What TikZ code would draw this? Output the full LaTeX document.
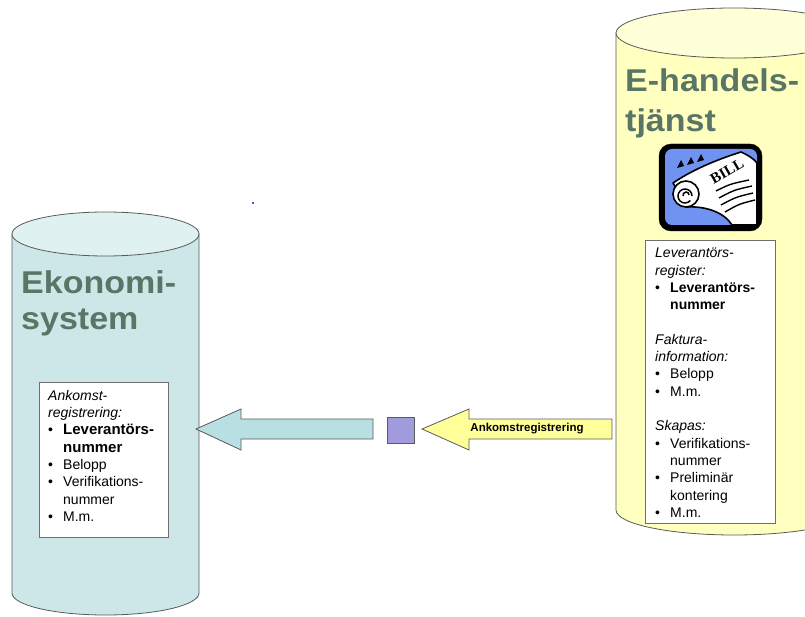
\documentclass[tikz,border=0pt]{standalone}
\usepackage{fontspec}
\setmainfont{Liberation Sans}
\newfontfamily\billfont{Liberation Serif}
\newfontfamily\titlefont[FakeStretch=1.08]{Liberation Sans}
\setlength{\parindent}{0pt}
\definecolor{ekoside}{RGB}{205,231,232}
\definecolor{ekotop}{RGB}{224,241,241}
\definecolor{handside}{RGB}{255,255,192}
\definecolor{handtop}{RGB}{255,255,216}
\definecolor{cylline}{RGB}{90,90,90}
\definecolor{boxline}{RGB}{110,110,110}
\definecolor{titlecol}{RGB}{88,117,102}
\definecolor{tealarrow}{RGB}{184,224,227}
\definecolor{yelarrow}{RGB}{255,255,153}
\definecolor{markfill}{RGB}{160,156,220}
\definecolor{billblue}{RGB}{112,146,240}
\newcommand{\bul}[1]{\par\hangindent=15pt\hangafter=1\noindent\makebox[15pt][l]{\textbullet}{#1}\par}

\begin{document}
\begin{tikzpicture}[x=1pt,y=-1pt,
	cyl/.style={draw=cylline,line width=0.8pt},
	infobox/.style={draw=boxline,fill=white,line width=0.8pt,inner sep=0pt,anchor=north west},
	infotext/.style={anchor=north west,inner sep=0pt,align=left,font=\fontsize{14}{17.3}\selectfont},
	systitle/.style={anchor=north west,inner sep=0pt,align=left,text=titlecol},
	blockarrow/.style={draw=cylline,line width=0.8pt,line join=miter}]
\useasboundingbox (0,0) rectangle (805,617);
\clip (0,0) rectangle (805,617);

% Ekonomisystem
\path[cyl,fill=ekoside] (12,234) -- (12,593) arc[start angle=180,end angle=360,x radius=93.5pt,y radius=22pt] -- (199,234) -- cycle;
\path[cyl,fill=ekotop] (105.5,234) ellipse[x radius=93.5pt,y radius=22pt];
\node[systitle,font=\titlefont\bfseries\fontsize{31.5}{36}\selectfont] (ekotitle) at (21,270) {Ekonomi-\\system};
\node[infobox,minimum width=129pt,minimum height=155pt] (ankbox) at (39,382) {};
\node[infotext,text width=118pt] (anktext) at (48,390) {%
	\textit{Ankomst-}\par
	\textit{registrering:}\par
	\bul{\bfseries\fontsize{15}{17.1}\selectfont Leverant\"ors-\newline nummer}
	\bul{Belopp}
	\bul{Verifikations-\newline nummer}
	\bul{M.m.}};

% E-handelstjanst
\path[cyl,fill=handside] (616,33) -- (616,510) arc[start angle=180,end angle=360,x radius=118pt,y radius=25pt] -- (852,33) -- cycle;
\path[cyl,fill=handtop] (734,33) ellipse[x radius=118pt,y radius=25pt];
\node[systitle,font=\titlefont\bfseries\fontsize{31.5}{40}\selectfont] (handtitle) at (625,68) {E-handels-\\tj\"anst};

% bill icon
\draw[fill=black,rounded corners=12pt] (659,144) rectangle (762,231);
\fill[billblue,rounded corners=7pt] (665,149) rectangle (757,225);
\draw[fill=white,line width=1.6pt,line join=round] (673,183) .. controls (695,168) and (722,158) .. (741,152) .. controls (748,155) and (754,159) .. (757,163) -- (757,225) -- (732,225) .. controls (724,212) and (705,206) .. (687,207) -- cycle;
\draw[fill=white,line width=1.6pt] (686,194) circle[radius=13pt];
\draw[line width=1.5pt] (692,196) arc[start angle=0,end angle=320,radius=7pt];
\draw[line width=1.5pt] (689,195) arc[start angle=0,end angle=200,radius=3pt];
\draw[line width=1.4pt] (716,191) .. controls (730,184) .. (749,180);
\draw[line width=1.4pt] (719,198) .. controls (734,190) .. (752,186);
\draw[line width=1.4pt] (721,205) .. controls (736,197) .. (753,193);
\draw[line width=1.4pt] (725,212) .. controls (739,204) .. (755,200);
\fill (677,168) -- (684,166) -- (681,160) -- cycle;
\fill (687,165) -- (694,163) -- (691,157) -- cycle;
\fill (697,162) -- (704,160) -- (701,154) -- cycle;
\node[rotate=30,font=\billfont\bfseries\fontsize{15}{15}\selectfont] (billtxt) at (727,171) {BILL};

\node[infobox,minimum width=130pt,minimum height=283pt] (regbox) at (645,240) {};
\node[infotext,text width=118pt] (regtext) at (655,248) {%
	\textit{Leverant\"ors-}\par
	\textit{register:}\par
	\bul{\bfseries Leverant\"ors-\newline nummer}
	\mbox{}\par
	\textit{Faktura-}\par
	\textit{information:}\par
	\bul{Belopp}
	\bul{M.m.}
	\mbox{}\par
	\textit{Skapas:}\par
	\bul{Verifikations-\newline nummer}
	\bul{Prelimin\"ar\newline kontering}
	\bul{M.m.}};

% arrows
\node[draw=cylline,fill=markfill,line width=0.8pt,minimum width=27pt,minimum height=26pt,inner sep=0pt] (mark) at (400.5,430) {};
\draw[blockarrow,fill=tealarrow] (196,429) -- (241,409) -- (241,419) -- (373,419) -- (373,439) -- (241,439) -- (241,450) -- cycle;
\draw[blockarrow,fill=yelarrow] (422,429) -- (469,409) -- (469,419) -- (612,419) -- (612,439) -- (469,439) -- (469,450) -- cycle;
\node[font=\bfseries\fontsize{11.5}{13}\selectfont] (anklabel) at (527,429) {Ankomstregistrering};
\fill[blue!70] (251.5,202.5) rectangle (253.5,204.5);
\end{tikzpicture}
\end{document}
